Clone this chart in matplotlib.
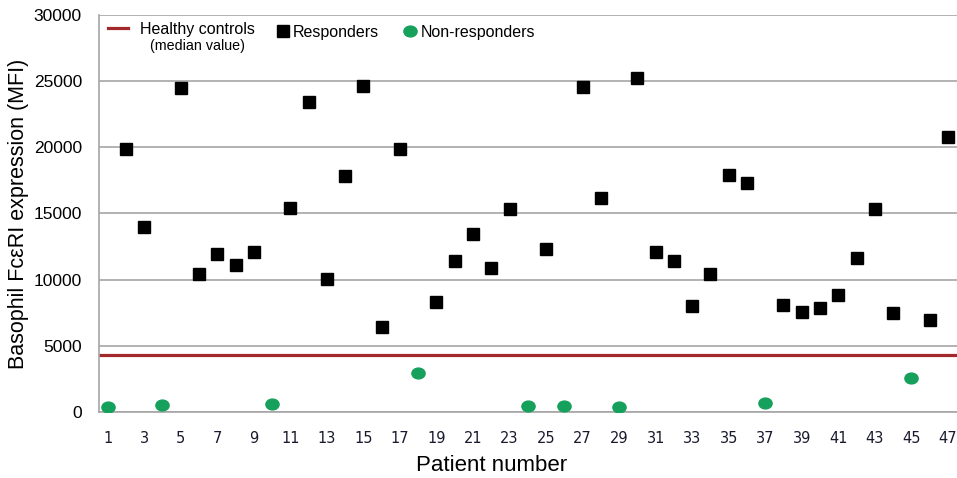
import numpy as np
import matplotlib.pyplot as plt
from matplotlib.path import Path
from matplotlib.transforms import Affine2D

# valores (MFI por paciente)
resp_patients = [2, 3, 5, 6, 7, 8, 9, 11, 12, 13, 14, 15, 16, 17, 19, 20, 21, 22, 23,
                 25, 27, 28, 30, 31, 32, 33, 34, 35, 36, 38, 39, 40, 41, 42, 43, 44, 46, 47]
resp_values = [19900, 13950, 24500, 10450, 11900, 11080, 12100, 15400, 23450, 10030,
               17800, 24650, 6450, 19850, 8300, 11400, 13450, 10880, 15320,
               12320, 24550, 16150, 25230, 12110, 11410, 7990, 10450, 17910, 17280,
               8090, 7580, 7880, 8820, 11610, 15320, 7480, 6950, 20800]

nonresp_patients = [1, 4, 10, 18, 24, 26, 29, 37, 45]
nonresp_values = [380, 500, 600, 2970, 480, 480, 380, 680, 2570]

healthy_median = 4300

xticks = list(range(1, 48, 2))
yticks = list(range(0, 30001, 5000))

plt.rcParams['font.family'] = ['Liberation Sans', 'DejaVu Sans']

fig = plt.figure(figsize=(9.57, 4.78), dpi=100)
ax = fig.add_axes([0.103, 0.138, 0.897, 0.831])

# marcador elíptico (um pouco achatado, como no original)
ellipse = Path.unit_circle().transformed(Affine2D().scale(1.0, 0.82))

hl = ax.axhline(healthy_median, color='#a3282b', lw=2.3, zorder=2, label='Healthy controls')
r, = ax.plot(resp_patients, resp_values, 's', color='black', ms=8, zorder=3, label='Responders')
nr, = ax.plot(nonresp_patients, nonresp_values, ls='none', marker=ellipse, color='#15a05b',
              ms=9.5, zorder=3, label='Non-responders')

ax.set_xlim(0.5, 47.5)
ax.set_ylim(0, 30000)
ax.set_xticks(xticks)
ax.set_yticks(yticks)
ax.tick_params(axis='both', length=0)
ax.tick_params(axis='y', labelsize=12.5, pad=12)
ax.tick_params(axis='x', pad=14)
for lab in ax.get_xticklabels():
    lab.set_fontfamily('DejaVu Sans')
    lab.set_fontsize(10.5)
    lab.set_color('#1a1a2e')

ax.grid(axis='y', color='#a6a6a6', lw=1.2)
ax.set_axisbelow(True)
for s in ['top', 'right']:
    ax.spines[s].set_visible(False)
for s in ['left', 'bottom']:
    ax.spines[s].set_color('#a6a6a6')
    ax.spines[s].set_linewidth(1.2)

ax.set_xlabel('Patient number', fontsize=16)
ax.xaxis.set_label_coords(0.458, -0.108)
ax.set_ylabel('Basophil FcεRI expression (MFI)', fontsize=15.5, labelpad=3)

# legenda em duas partes para imitar o espaçamento do original
leg1 = ax.legend(handles=[hl], loc='upper left', bbox_to_anchor=(0.011, 0.982),
                 frameon=False, fontsize=11.5, handlelength=1.25, handletextpad=0.75,
                 borderpad=0, borderaxespad=0)
ax.add_artist(leg1)
ax.legend(handles=[r, nr], loc='upper left', bbox_to_anchor=(0.208, 0.975), ncol=2,
          frameon=False, fontsize=11.5, handlelength=0.7, handletextpad=0.3,
          columnspacing=1.6, borderpad=0, borderaxespad=0)
ax.text(0.060, 0.922, '(median value)', transform=ax.transAxes, fontsize=10.3, va='center')

fig.savefig('out.png', dpi=100)
